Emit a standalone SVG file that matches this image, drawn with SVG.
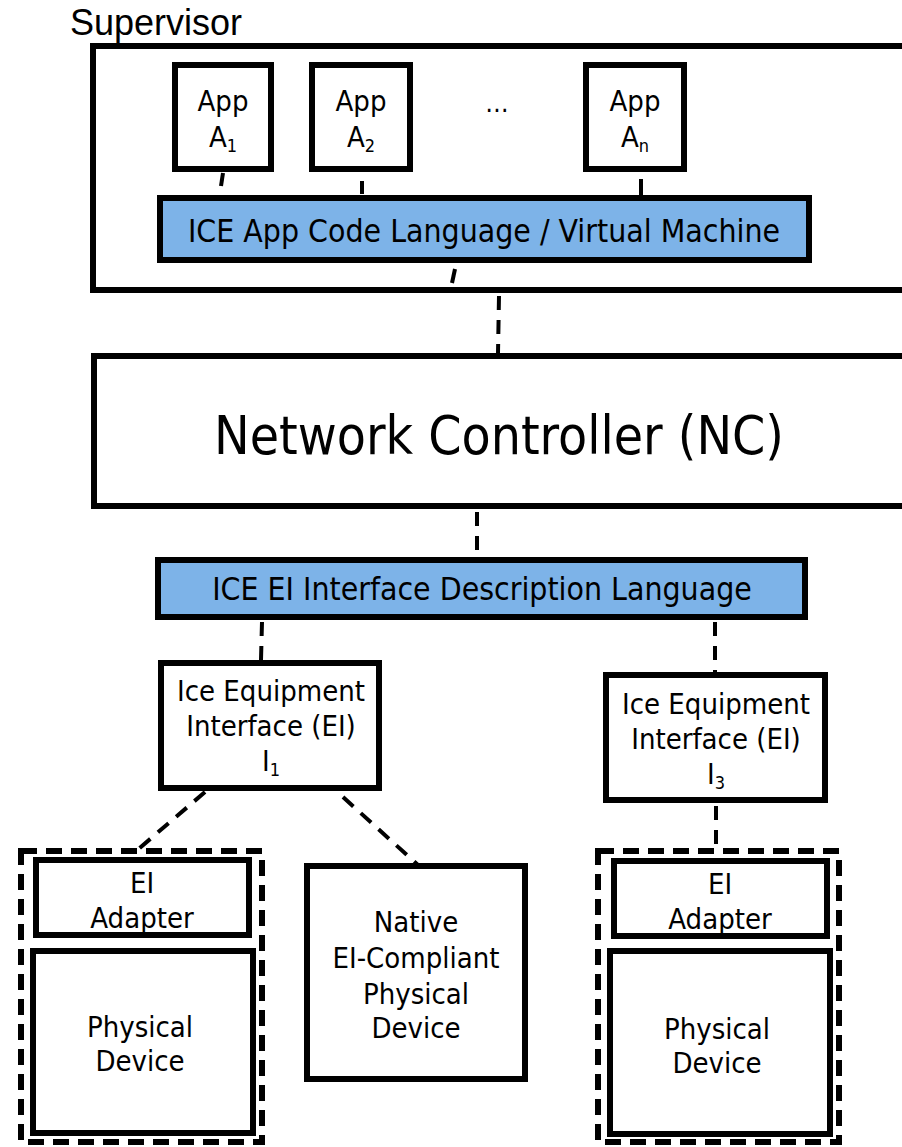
<svg xmlns="http://www.w3.org/2000/svg" width="902" height="1147" viewBox="0 0 902 1147">
<style>
.box{fill:#fff;stroke:#000;stroke-width:6}
.blue{fill:#7db3e8;stroke:#000;stroke-width:6}
.dbox{fill:none;stroke:#000;stroke-width:6;stroke-dasharray:16 9}
.t{font-family:"DejaVu Sans Condensed","DejaVu Sans",sans-serif;fill:#000;text-anchor:middle}
.s27{font-size:29px}
.s30{font-size:31.7px}
.sub{font-size:18px}
.c{stroke:#000;stroke-width:4;fill:none}
.cd{stroke:#000;stroke-width:4;fill:none;stroke-dasharray:14 10}
</style>
<rect width="902" height="1147" fill="#fff"/>
<g id="supervisor">
<rect class="box" x="93" y="46" width="830" height="244"/>
<text x="70" y="35" font-family="Liberation Sans, Arial, sans-serif" font-size="36">Supervisor</text>
</g>
<g id="appA1"><rect class="box" x="175" y="65" width="96" height="104"/>
<text class="t s27" x="223" y="111">App</text><text class="t s27" x="223" y="147">A<tspan class="sub" dy="5">1</tspan></text></g>
<g id="appA2"><rect class="box" x="312" y="65" width="98" height="104"/>
<text class="t s27" x="361" y="111">App</text><text class="t s27" x="361" y="147">A<tspan class="sub" dy="5">2</tspan></text></g>
<g id="ellipsis"><text class="t" font-size="26" x="497" y="112">…</text></g>
<g id="appAn"><rect class="box" x="586" y="65" width="98" height="104"/>
<text class="t s27" x="635" y="111">App</text><text class="t s27" x="635" y="147">A<tspan class="sub" dy="5">n</tspan></text></g>
<g id="vm"><rect class="blue" x="160" y="198" width="649" height="62"/>
<text class="t s30" x="484" y="242">ICE App Code Language / Virtual Machine</text></g>
<g id="nc"><rect class="box" x="94" y="356" width="830" height="150"/>
<text class="t" font-size="53" x="499" y="454">Network Controller (NC)</text></g>
<g id="eibar"><rect class="blue" x="158" y="560" width="647" height="57"/>
<text class="t s30" x="482" y="600">ICE EI Interface Description Language</text></g>
<g id="ei1"><rect class="box" x="161" y="663" width="218" height="125"/>
<text class="t s27" x="271" y="701">Ice Equipment</text>
<text class="t s27" x="271" y="736">Interface (EI)</text>
<text class="t s27" x="271" y="771">I<tspan class="sub" dy="5">1</tspan></text></g>
<g id="ei3"><rect class="box" x="606" y="675" width="219" height="125"/>
<text class="t s27" x="716" y="714">Ice Equipment</text>
<text class="t s27" x="716" y="749">Interface (EI)</text>
<text class="t s27" x="716" y="784">I<tspan class="sub" dy="5">3</tspan></text></g>
<g id="dev1">
<rect class="dbox" x="21" y="851" width="241" height="291"/>
<rect class="box" x="36" y="860" width="213" height="75"/>
<text class="t s27" x="142" y="893">EI</text><text class="t s27" x="142" y="928">Adapter</text>
<rect class="box" x="33" y="951" width="220" height="182"/>
<text class="t s27" x="140" y="1037">Physical</text><text class="t s27" x="140" y="1071">Device</text>
</g>
<g id="native">
<rect class="box" x="307" y="866" width="218" height="213"/>
<text class="t s27" x="416" y="932">Native</text>
<text class="t s27" x="416" y="968">EI-Compliant</text>
<text class="t s27" x="416" y="1004">Physical</text>
<text class="t s27" x="416" y="1038">Device</text>
</g>
<g id="dev3">
<rect class="dbox" x="598" y="851" width="241" height="291"/>
<rect class="box" x="614" y="861" width="213" height="75"/>
<text class="t s27" x="720" y="894">EI</text><text class="t s27" x="720" y="929">Adapter</text>
<rect class="box" x="610" y="951" width="220" height="183"/>
<text class="t s27" x="717" y="1039">Physical</text><text class="t s27" x="717" y="1073">Device</text>
</g>
<g id="connectors">
<line class="c" x1="223" y1="173" x2="221" y2="186"/>
<line class="c" x1="362" y1="181" x2="362" y2="194"/>
<line class="c" x1="641" y1="179" x2="641" y2="195"/>
<line class="c" x1="455" y1="269" x2="452" y2="283"/>
<line class="cd" x1="499" y1="296" x2="498" y2="353"/>
<line class="cd" x1="477" y1="512" x2="477" y2="556"/>
<line class="cd" x1="262" y1="622" x2="261" y2="660"/>
<line class="cd" x1="715" y1="622" x2="715" y2="672"/>
<line class="cd" x1="205" y1="792" x2="135" y2="852"/>
<line class="cd" x1="343" y1="797" x2="418" y2="865"/>
<line class="cd" x1="716" y1="806" x2="716" y2="850"/>
</g>
</svg>
